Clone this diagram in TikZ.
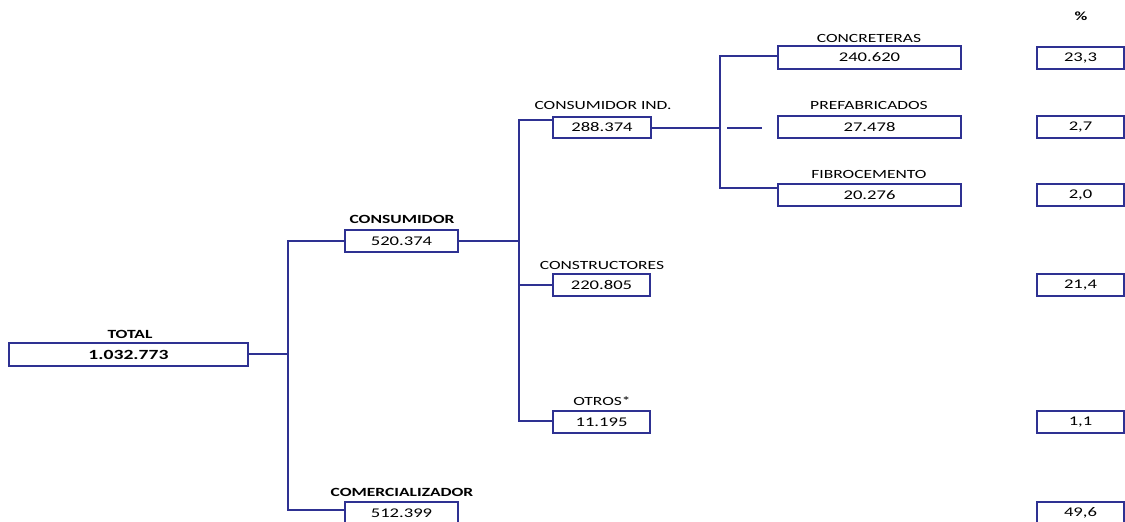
\documentclass[tikz,border=0pt]{standalone}
\usepackage{fontspec}
\setmainfont{Carlito}[FakeStretch=1.4]
\definecolor{navy}{RGB}{46,49,146}
\tikzset{
  box/.style={draw=navy, line width=2.8pt, inner sep=0pt, minimum height=22pt, font=\fontsize{13.3}{14}\selectfont},
  lbl/.style={inner sep=0pt, font=\fontsize{12.5}{14}\selectfont},
  blbl/.style={inner sep=0pt, font=\fontsize{12.5}{14}\selectfont\bfseries},
  conn/.style={draw=navy, line width=2.2pt},
}
\begin{document}
\begin{tikzpicture}[x=1pt,y=-1pt]
\useasboundingbox (0,0) rectangle (1125,522);
\clip (0,0) rectangle (1125,522);
% boxes
\node[box, minimum width=239pt, minimum height=23pt, font=\fontsize{14}{15}\selectfont\bfseries] (total) at (128.5,354.5) {1.032.773};
\node[box, minimum width=113pt] (cons) at (401.5,241) {520.374};
\node[box, minimum width=113pt] (comer) at (401.5,513) {512.399};
\node[box, minimum width=98pt, minimum height=21pt] (ind) at (602,127.5) {288.374};
\node[box, minimum width=97pt] (constr) at (601.5,285) {220.805};
\node[box, minimum width=97pt] (otros) at (601.5,422) {11.195};
\node[box, minimum width=183pt, minimum height=23pt] (concr) at (869.5,57.5) {240.620};
\node[box, minimum width=183pt] (prefab) at (869.5,127) {27.478};
\node[box, minimum width=183pt] (fibro) at (869.5,195) {20.276};
\node[box, minimum width=87pt] (p1) at (1080.5,58) {23,3};
\node[box, minimum width=87pt] (p2) at (1080.5,127) {2,7};
\node[box, minimum width=87pt] (p3) at (1080.5,195) {2,0};
\node[box, minimum width=87pt] (p4) at (1080.5,285) {21,4};
\node[box, minimum width=87pt] (p5) at (1080.5,422) {1,1};
\node[box, minimum width=87pt] (p6) at (1080.5,513) {49,6};
% labels
\node[blbl] (ltotal) at (130,334) {TOTAL};
\node[blbl] (lcons) at (402,219) {CONSUMIDOR};
\node[blbl] (lcomer) at (402,492) {COMERCIALIZADOR};
\node[lbl] (lind) at (603,105) {CONSUMIDOR IND.};
\node[lbl] (lconstr) at (602,265) {CONSTRUCTORES};
\node[lbl] (lotros) at (602,401) {OTROS*};
\node[lbl] (lconcr) at (869,38) {CONCRETERAS};
\node[lbl] (lprefab) at (869,105) {PREFABRICADOS};
\node[lbl] (lfibro) at (869,174) {FIBROCEMENTO};
\node[blbl] (lpct) at (1081,16) {\%};
% bus coordinates
\coordinate (b1t) at (288,241);
\coordinate (b1m) at (288,354);
\coordinate (b1b) at (288,510);
\coordinate (b2t) at (519,120);
\coordinate (b2b) at (519,421);
\coordinate (b3t) at (720,56);
\coordinate (b3b) at (720,188);
\coordinate (s1) at (727,128);
\coordinate (s2) at (762,128);
% connectors
\draw[conn] (total.east |- b1m) -- (b1m);
\draw[conn] (cons.west |- b1t) -- (b1t) -- (b1b) -- (comer.west |- b1b);
\draw[conn] (cons.east) -- (cons.east -| b2t);
\draw[conn] (ind.west |- b2t) -- (b2t) -- (b2b) -- (otros.west |- b2b);
\draw[conn] (b2t |- constr.west) -- (constr.west);
\draw[conn] (ind.east |- s1) -- (s1 -| b3t);
\draw[conn] (concr.west |- b3t) -- (b3t) -- (b3b) -- (fibro.west |- b3b);
\draw[conn] (s1) -- (s2);
\end{tikzpicture}
\end{document}
